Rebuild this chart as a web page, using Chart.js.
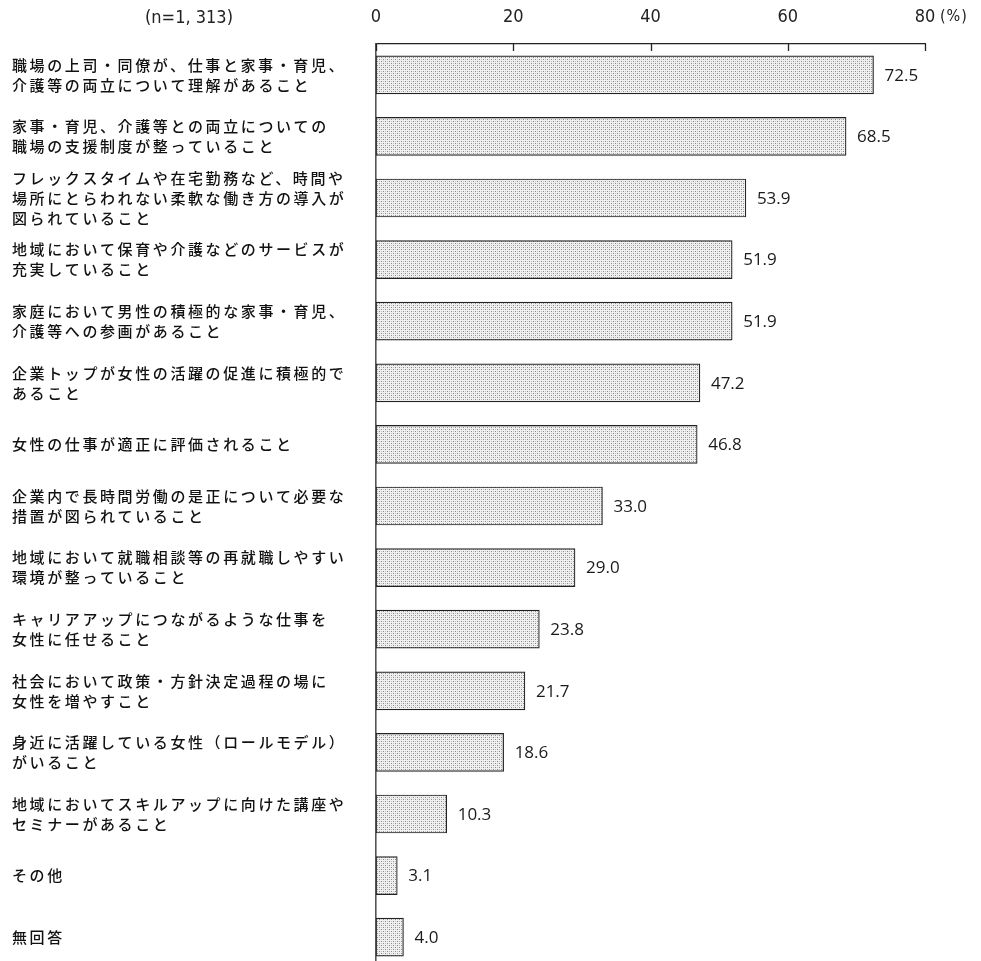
<!DOCTYPE html>
<html>
<head>
<meta charset="utf-8">
<script src="https://cdn.jsdelivr.net/npm/chart.js@4.4.0/dist/chart.umd.min.js"></script>
<style>
  html, body { margin: 0; padding: 0; background: #ffffff; overflow: hidden; }
  #wrap { position: absolute; left: 0; top: 0; width: 981px; height: 968px; }
</style>
</head>
<body>
<div id="wrap"><canvas id="c" width="981" height="968"></canvas></div>
<script>
const categories = [
  ['職場の上司・同僚が、仕事と家事・育児、', '介護等の両立について理解があること'],
  ['家事・育児、介護等との両立についての', '職場の支援制度が整っていること'],
  ['フレックスタイムや在宅勤務など、時間や', '場所にとらわれない柔軟な働き方の導入が', '図られていること'],
  ['地域において保育や介護などのサービスが', '充実していること'],
  ['家庭において男性の積極的な家事・育児、', '介護等への参画があること'],
  ['企業トップが女性の活躍の促進に積極的で', 'あること'],
  ['女性の仕事が適正に評価されること'],
  ['企業内で長時間労働の是正について必要な', '措置が図られていること'],
  ['地域において就職相談等の再就職しやすい', '環境が整っていること'],
  ['キャリアアップにつながるような仕事を', '女性に任せること'],
  ['社会において政策・方針決定過程の場に', '女性を増やすこと'],
  ['身近に活躍している女性（ロールモデル）', 'がいること'],
  ['地域においてスキルアップに向けた講座や', 'セミナーがあること'],
  ['その他'],
  ['無回答']
];
const values = [72.5, 68.5, 53.9, 51.9, 51.9, 47.2, 46.8, 33.0, 29.0, 23.8, 21.7, 18.6, 10.3, 3.1, 4.0];
const xTicks = [0, 20, 40, 60, 80];
const sampleLabel = '(n=1, 313)';
const unitLabel = '(%)';

const NUM_FAMILY = "'DejaVu Sans', sans-serif";

function makePattern() {
  const p = document.createElement('canvas');
  p.width = 4; p.height = 4;
  const g = p.getContext('2d');
  g.fillStyle = '#f0f0f0';
  g.fillRect(0, 0, 4, 4);
  g.fillStyle = '#8a8a8a';
  g.fillRect(1, 1, 1, 1);
  g.fillRect(3, 3, 1, 1);
  g.fillStyle = '#c4c4c4';
  g.fillRect(3, 1, 1, 1);
  g.fillRect(1, 3, 1, 1);
  return document.getElementById('c').getContext('2d').createPattern(p, 'repeat');
}

const extrasPlugin = {
  id: 'extras',
  beforeDraw(chart) {
    const ys = chart.scales.y;
    if (ys && !ys._spacedWrap) {
      const orig = ys.drawLabels.bind(ys);
      ys.drawLabels = function (area) {
        const ctx = chart.ctx;
        ctx.save();
        try { ctx.letterSpacing = '2.6px'; } catch (e) {}
        orig(area);
        ctx.restore();
      };
      ys._spacedWrap = true;
    }
  },
  afterDatasetsDraw(chart) {
    const ctx = chart.ctx;
    const meta = chart.getDatasetMeta(0);
    ctx.save();
    ctx.font = "500 17px 'Open Sans', 'Liberation Sans', sans-serif";
    ctx.fillStyle = '#1a1a1a';
    ctx.textAlign = 'left';
    ctx.textBaseline = 'middle';
    meta.data.forEach((bar, i) => {
      ctx.fillText(values[i].toFixed(1), bar.x + 11, bar.y + 1);
    });
    ctx.restore();
  },
  afterDraw(chart) {
    const ctx = chart.ctx;
    const xs = chart.scales.x;
    const top = chart.chartArea.top;
    ctx.save();
    ctx.strokeStyle = '#222';
    ctx.lineWidth = 1.3;
    xs.ticks.forEach(t => {
      const x = Math.round(xs.getPixelForValue(t.value)) + 0.5;
      ctx.beginPath();
      ctx.moveTo(x, top);
      ctx.lineTo(x, top + 7);
      ctx.stroke();
    });
    ctx.fillStyle = '#222';
    ctx.textBaseline = 'middle';
    ctx.textAlign = 'center';
    ctx.font = 'condensed 18px ' + NUM_FAMILY;
    ctx.fillText(sampleLabel, 189, 18);
    ctx.textAlign = 'left';
    ctx.font = 'condensed 16px ' + NUM_FAMILY;
    try { ctx.letterSpacing = '1px'; } catch (e) {}
    ctx.fillText(unitLabel, xs.getPixelForValue(80) + 15, 17);
    ctx.restore();
  }
};

new Chart(document.getElementById('c'), {
  type: 'bar',
  data: {
    labels: categories,
    datasets: [{
      data: values,
      backgroundColor: makePattern(),
      borderColor: '#222222',
      borderWidth: 1.2,
      borderSkipped: false,
      barThickness: 38
    }]
  },
  options: {
    indexAxis: 'y',
    responsive: false,
    animation: false,
    devicePixelRatio: 1,
    layout: { padding: { left: 12, right: 56, top: 0, bottom: 0 } },
    plugins: { legend: { display: false }, tooltip: { enabled: false } },
    scales: {
      x: {
        position: 'top',
        min: 0,
        max: 80,
        afterBuildTicks(scale) { scale.ticks = xTicks.map(v => ({ value: v })); },
        afterFit(scale) { scale.height = 44; scale.paddingLeft = 0; scale.paddingRight = 0; },
        grid: { display: false, drawOnChartArea: false, drawTicks: false },
        border: { display: true, color: '#222', width: 1.3 },
        ticks: {
          padding: 16,
          color: '#222',
          font: { family: NUM_FAMILY, size: 18, weight: 'condensed' },
          maxRotation: 0
        }
      },
      y: {
        afterFit(scale) { scale.width = 364; scale.paddingTop = 0; scale.paddingBottom = 0; },
        grid: { display: false, drawTicks: false },
        border: { display: true, color: '#555', width: 1.6 },
        ticks: {
          autoSkip: false,
          crossAlign: 'far',
          padding: 0,
          color: '#111',
          font: { family: "'Noto Sans CJK JP', 'Noto Sans', sans-serif", size: 15, weight: 500, lineHeight: '20px' }
        }
      }
    }
  },
  plugins: [extrasPlugin]
});
</script>
</body>
</html>
